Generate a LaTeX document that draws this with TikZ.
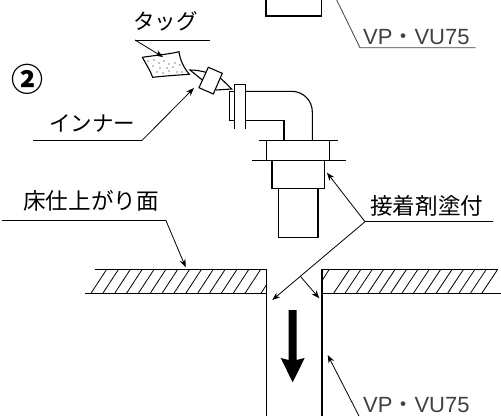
\documentclass[tikz,border=0pt]{standalone}
\usepackage{fontspec}
\setmainfont{Liberation Sans}
\newfontfamily\cjk{Noto Sans CJK JP}
\usetikzlibrary{arrows.meta}
\tikzset{
  wall/.style={line width=1.1pt},
  leader/.style={line width=.8pt,-{Stealth[length=8pt,width=6pt]}},
  rule/.style={line width=.8pt},
  jlabel/.style={anchor=base west,inner sep=0pt,font=\cjk\fontsize{21.5}{24}\selectfont},
  klabel/.style={anchor=base west,inner sep=0pt,font=\cjk\fontsize{22.6}{24}\selectfont},
  vplabel/.style={anchor=base west,inner sep=0pt,text=black!75,font=\fontsize{22}{24}\selectfont}
}
\begin{document}
\begin{tikzpicture}[x=1pt,y=-1pt]
\useasboundingbox (0,0) rectangle (501,416);
% labels
\node[inner sep=0pt,font=\cjk\bfseries\fontsize{32}{36}\selectfont] (num) at (27.5,79.5) {②};
\node[jlabel] (tag) at (133,29) {タッグ};
\node[jlabel] (inner) at (49,131) {インナー};
\node[klabel] (floor) at (23,209) {床仕上がり面};
\node[klabel] (glue) at (370,214) {接着剤塗付};
\node[vplabel] (vptop) at (363,44) {VP\smash{\cjk ・}VU75};
\node[vplabel] (vpbot) at (363,412.5) {VP\smash{\cjk ・}VU75};
% leader corners
\coordinate (tagL) at (135,40);
\coordinate (tagR) at (210,40);
\coordinate (tagtip) at (163,57);
\coordinate (innerL) at (33,140.7);
\coordinate (innerR) at (141.7,140.7);
\coordinate (innertip) at (194,88);
\coordinate (floorL) at (1.7,220);
\coordinate (floorR) at (165.7,220);
\coordinate (floortip) at (185.7,267.3);
\coordinate (glueL) at (365,221.7);
\coordinate (glueR) at (492.7,221.7);
\coordinate (gluetipA) at (327,172.7);
\coordinate (gluetipB) at (272.3,300);
\coordinate (gluefork) at (300.7,276.7);
\coordinate (gluetipC) at (319.3,298.3);
\coordinate (vptopA) at (336.7,0);
\coordinate (vptopB) at (360,47.7);
\coordinate (vptopC) at (475.7,47.7);
\coordinate (vpbotA) at (359,416);
\coordinate (vpbottip) at (327.7,355);
% upper pipe
\draw[wall] (266,0) -- (266,16) -- (321.7,16) -- (321.7,0);
\draw[rule,black!75] (vptopA) -- (vptopB) -- (vptopC);
% tag and nozzle
\draw[wall] (142.3,57.3) .. controls (158,55) and (170,54) .. (179,51.7)
  .. controls (180,60) and (184,68) .. (189.3,74.3)
  .. controls (178,75) and (165,76) .. (152.7,77.3)
  .. controls (150,70) and (146,64) .. (142.3,57.3);
\foreach \p/\q in {148/61,154/60,159/63,164/61,169/64,175/63,153/66,160/68,167/68,173/67,180/65,157/72,163/73,169/71,177/72,182/72}{
\fill (\p,\q) circle (.7);
}
\draw[wall] (208.3,67.3) -- (222.3,73.3) -- (213.3,94) -- (199,87.7) -- cycle;
\draw[wall] (202.3,80) -- (190,70) .. controls (196,70) and (201,71) .. (206,72.3);
\draw[wall] (220.7,78.3) -- (231.7,89) -- (216,90);
% flange and elbow
\draw[wall] (234.3,129) -- (234.3,84.7) -- (245.7,84.7) -- (245.7,129);
\draw[wall] (234.3,91.7) -- (229.3,91.7) -- (229.3,120.7) -- (234.3,120.7);
\draw[wall] (245.7,91.3) -- (291.7,91.3) arc[start angle=90,end angle=0,x radius=20.6,y radius=-20.4] -- (312.3,140.7);
\draw[wall] (245.7,120.7) -- (284,120.7) -- (284,140.7);
% socket
\draw[wall] (259.3,140.7) -- (338.3,140.7);
\draw[wall] (251.7,160.7) -- (345.7,160.7);
\draw[wall] (266.3,140.7) -- (266.3,160.7);
\draw[wall] (329.7,140.7) -- (329.7,160.7);
\draw[wall] (272,160.7) -- (272,188.3) -- (324.3,188.3) -- (324.3,160.7);
\draw[wall] (278.7,188.3) -- (278.7,237.7) -- (318,237.7) -- (318,188.3);
% floor
\draw[wall] (95,269.3) -- (266.7,269.3) -- (266.7,416);
\draw[wall] (85,293.7) -- (266.7,293.7);
\draw[wall] (498,269.7) -- (322,269.7) -- (322,416);
\draw[wall] (322,293.7) -- (501,293.7);
\foreach \t in {0,...,13}{
\draw[rule] ({90.7+11.85*\t},293.7) -- ({106.7+11.85*\t},269.3);
}
\draw[rule] (260.7,293.7) -- (266.7,284.5);
\draw[rule] (322.5,280) -- (329,269.7);
\foreach \t in {0,...,13}{
\draw[rule] ({333.3+11.4*\t},293.7) -- ({349.3+11.4*\t},269.7);
}
% flow arrow
\fill (288.7,310) -- (296.7,310) -- (296.7,360) -- (304.7,358) -- (292.7,382.3) -- (280.7,358) -- (288.7,360) -- cycle;
% leaders
\draw[rule] (tagR) -- (tagL);
\draw[leader] (tagL) -- (tagtip);
\draw[rule] (innerL) -- (innerR);
\draw[leader] (innerR) -- (innertip);
\draw[rule] (floorL) -- (floorR);
\draw[leader] (floorR) -- (floortip);
\draw[rule] (glueR) -- (glueL);
\draw[leader] (glueL) -- (gluetipA);
\draw[leader] (glueL) -- (gluetipB);
\draw[leader] (gluefork) -- (gluetipC);
\draw[leader] (vpbotA) -- (vpbottip);
\end{tikzpicture}
\end{document}
